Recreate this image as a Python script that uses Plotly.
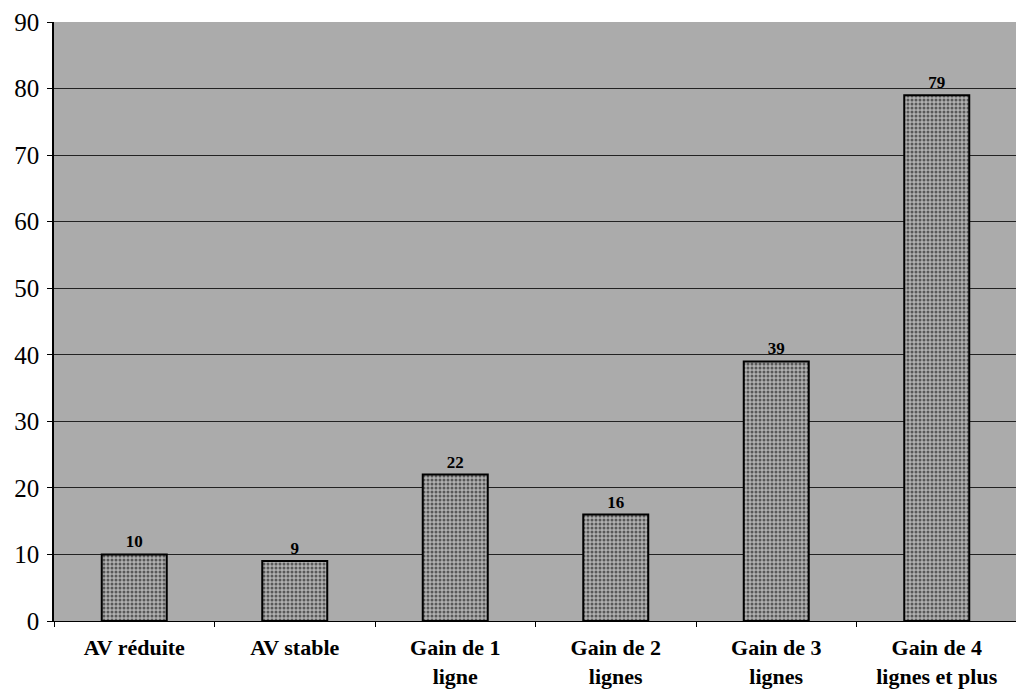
import plotly.graph_objects as go

categories = ["AV réduite", "AV stable", "Gain de 1<br>ligne", "Gain de 2<br>lignes",
              "Gain de 3<br>lignes", "Gain de 4<br>lignes et plus"]
values = [10, 9, 22, 16, 39, 79]
y_ticks = [0, 10, 20, 30, 40, 50, 60, 70, 80, 90]

fig = go.Figure()
fig.add_trace(go.Bar(
    x=categories, y=values,
    text=["<b>%d</b>" % v for v in values], textposition="outside",
    textfont=dict(family="Liberation Serif", size=17, color="black"),
    cliponaxis=False,
    marker=dict(
        color="#8c8c8c",
        line=dict(color="black", width=2),
        pattern=dict(shape=".", fgcolor="#000000", bgcolor="#b0b0b0", size=4, solidity=0.45),
    ),
))
fig.update_layout(
    width=1024, height=690,
    margin=dict(l=46, r=15, t=14, b=77),
    paper_bgcolor="white", plot_bgcolor="#ababab",
    bargap=0.595, showlegend=False,
    font=dict(family="Liberation Serif", color="black"),
)
fig.update_xaxes(
    tickvals=categories,
    ticktext=["<b>%s</b>" % c for c in categories],
    tickfont=dict(family="Liberation Serif", size=22, color="black"),
    showline=True, linecolor="black", linewidth=1,
    ticks="outside", tickson="boundaries", ticklen=5, tickcolor="black",
    ticklabelstandoff=7,
    showgrid=False, automargin=False,
)
fig.update_yaxes(
    range=[0, 90], tickvals=y_ticks,
    tickfont=dict(family="Liberation Serif", size=25, color="black"),
    showline=True, linecolor="black", linewidth=1.5,
    ticks="outside", ticklen=5, tickcolor="black",
    ticklabelstandoff=3,
    showgrid=True, gridcolor="#222222", gridwidth=1,
    zeroline=False, automargin=False,
)
fig.write_html("out.html")
